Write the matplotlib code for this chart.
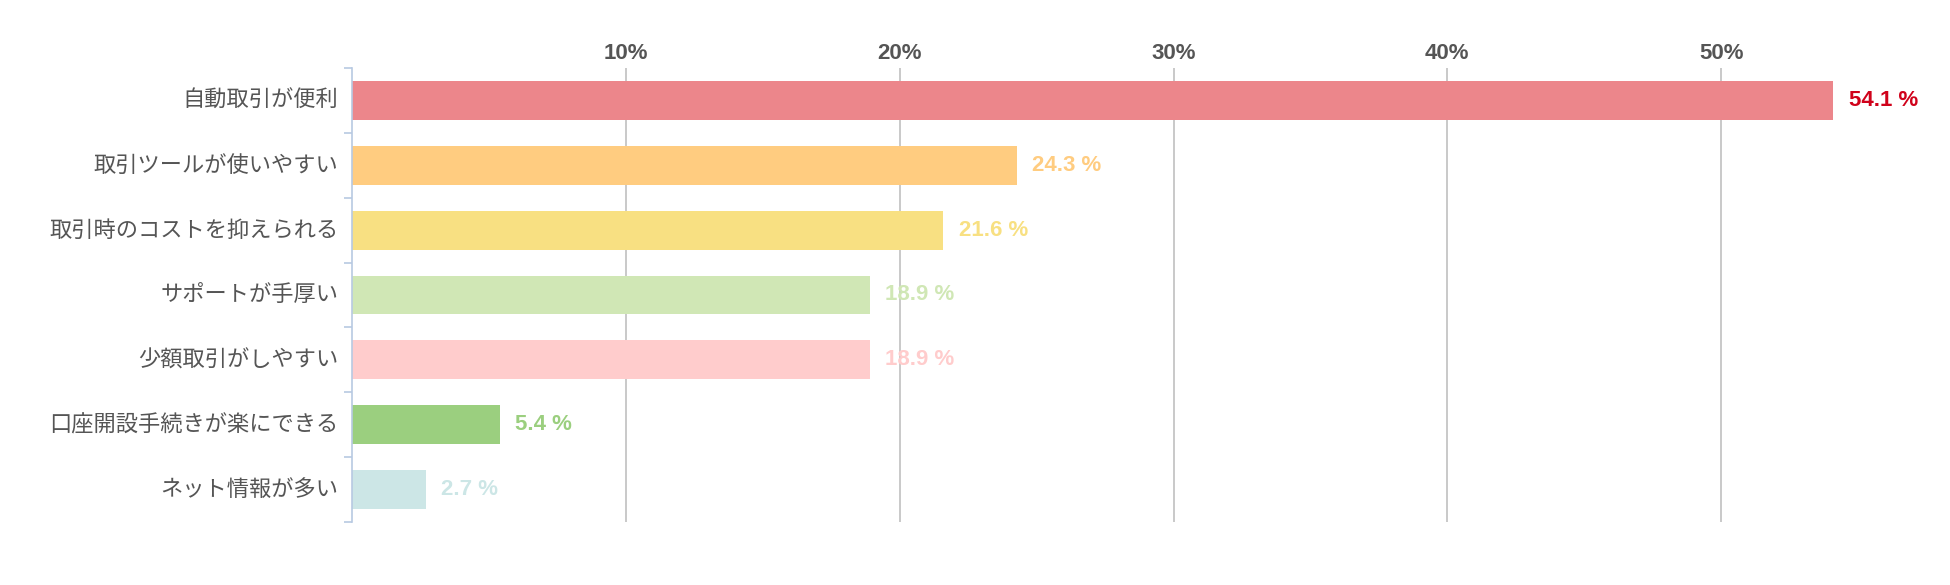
import matplotlib
matplotlib.use('Agg')
import matplotlib.pyplot as plt
import numpy as np

plt.rcParams['font.family'] = ['Noto Sans CJK JP', 'DejaVu Sans']

## data
labels = ['自動取引が便利', '取引ツールが使いやすい', '取引時のコストを抑えられる', 'サポートが手厚い',
          '少額取引がしやすい', '口座開設手続きが楽にできる', 'ネット情報が多い']
values = [54.1, 24.3, 21.6, 18.9, 18.9, 5.4, 2.7]
bar_colors = ['#ec868b', '#ffcc80', '#f8e082', '#d0e7b5', '#ffcccc', '#9bcf7f', '#cce6e6']
text_colors = ['#d0021b', '#ffcc80', '#f8e082', '#d0e7b5', '#ffcccc', '#9bcf7f', '#cce6e6']
xticks = [10, 20, 30, 40, 50]
xtick_labels = ['10%', '20%', '30%', '40%', '50%']

fig = plt.figure(figsize=(19.5, 5.85), dpi=100)
ax = fig.add_axes([0.1805, 0.1077, 0.8075, 0.7761])

ind = np.arange(len(values))
ax.barh(ind, values, height=0.6, color=bar_colors, zorder=2)

## value labels right of the bars
for i, v in enumerate(values):
    ax.text(v + 0.55, i, '%.1f %%' % v, va='center', ha='left', fontsize=16,
            fontweight='bold', color=text_colors[i], family=['Liberation Sans', 'DejaVu Sans'])

ax.set_xlim(0, 57.5)
ax.set_ylim(6.5, -0.5)

ax.xaxis.tick_top()
ax.set_xticks(xticks)
ax.set_xticklabels(xtick_labels, fontsize=16, fontweight='bold', color='#555555',
                   family=['Liberation Sans', 'DejaVu Sans'])
ax.tick_params(axis='x', length=0, pad=3)
ax.grid(axis='x', color='#c0c0c0', linewidth=1.2, zorder=0)

## category labels as text, ticks at band edges
ax.set_yticks(np.arange(-0.5, 7, 1))
ax.set_yticklabels([])
ax.tick_params(axis='y', length=6, color='#b7c9e2', width=1.2)
for i, lab in enumerate(labels):
    ax.text(-0.5, i, lab, ha='right', va='center', fontsize=16, color='#555555')

for s in ['top', 'right', 'bottom']:
    ax.spines[s].set_visible(False)
ax.spines['left'].set_color('#b7c9e2')
ax.spines['left'].set_linewidth(1.2)

fig.savefig('out.png', dpi=100)
